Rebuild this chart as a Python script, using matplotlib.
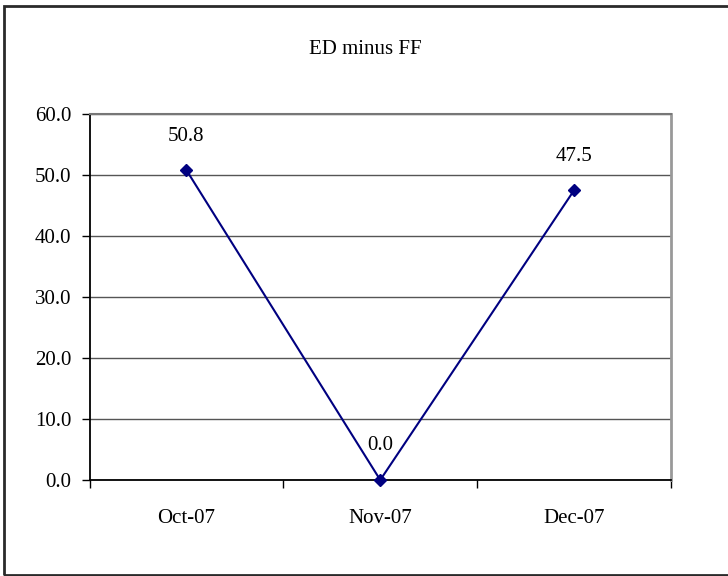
import matplotlib
matplotlib.use('Agg')
import matplotlib.pyplot as plt
from matplotlib.patches import Rectangle

# Series data
MONTHS = ['Oct-07', 'Nov-07', 'Dec-07']
ED_MINUS_FF = [50.8, 0.0, 47.5]
Y_TICKS = [0, 10, 20, 30, 40, 50, 60]

plt.rcParams['font.family'] = ['Liberation Serif', 'DejaVu Serif']
FS = 15

fig = plt.figure(figsize=(7.28, 5.76), dpi=100)
W, H = 728, 576

# outer chart border
fig.patches.append(Rectangle((3.5 / W, (H - 574.5) / H), 740 / W, 569 / H,
                             transform=fig.transFigure, fill=False,
                             edgecolor='#2a2a2a', linewidth=2, clip_on=False))

ax = fig.add_axes([89.5 / W, (H - 480) / H, (671 - 89.5) / W, (480 - 114) / H])

x = list(range(len(MONTHS)))
ax.plot(x, ED_MINUS_FF, color='#000080', linewidth=1.5, marker='D',
        markersize=6.5, markerfacecolor='#000080', markeredgecolor='#000080',
        zorder=5, clip_on=False)

for xi, v in zip(x, ED_MINUS_FF):
    ax.annotate(f'{v:.1f}', (xi, v), xytext=(0, 34), textcoords='offset pixels',
                ha='center', va='center', fontsize=FS, color='black')

ax.set_xlim(-0.5, 2.5)
ax.set_ylim(0, 60)
ax.set_yticks(Y_TICKS)
ax.set_yticklabels([f'{t:.1f}' for t in Y_TICKS], fontsize=FS)
ax.yaxis.grid(True, color='#555555', linewidth=1)
ax.set_axisbelow(True)

# category labels centred, ticks at the boundaries
ax.set_xticks(x)
ax.set_xticklabels(MONTHS, fontsize=FS)
ax.tick_params(axis='x', length=0, pad=21)
ax.set_xticks([-0.5, 0.5, 1.5, 2.5], minor=True)
ax.tick_params(axis='x', which='minor', length=6, width=1, color='black')
ax.tick_params(axis='y', length=6, width=1, pad=7, color='black')

ax.spines['left'].set_color('black')
ax.spines['left'].set_linewidth(1.3)
ax.spines['bottom'].set_color('black')
ax.spines['bottom'].set_linewidth(1.3)
ax.spines['top'].set_color('#777777')
ax.spines['top'].set_linewidth(1.5)
ax.spines['right'].set_color('#999999')
ax.spines['right'].set_linewidth(2)

fig.text(365 / W, 1 - 50 / H, 'ED minus FF', ha='center', va='center',
         fontsize=FS, color='black')

fig.savefig('out.png', dpi=100)
